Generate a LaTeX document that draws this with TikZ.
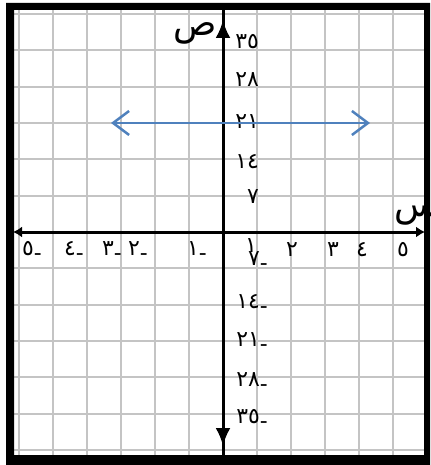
\documentclass[tikz,border=0pt]{standalone}
\usepackage{fontspec}
\usepackage{xcolor}
\usepackage{tikz}
\usetikzlibrary{arrows.meta}
\newfontfamily\arabicfont[Script=Arabic]{DejaVu Sans}
\TeXXeTstate=1
\definecolor{GPGrid}{HTML}{C4C4C4}
\definecolor{GPBlue}{HTML}{4F81BD}
\newcommand\lowdash{\raisebox{-0.35ex}{-}}

\begin{document}
\begin{tikzpicture}[x=1bp,y=-1bp,
  numlbl/.style={inner sep=0pt,font=\arabicfont\fontsize{22}{22}\selectfont},
  axislbl/.style={inner sep=0pt,font=\arabicfont\fontsize{36}{36}\selectfont}]
\path[use as bounding box] (0,0) rectangle (430,465);
\fill[white] (0,0) rectangle (430,465);
% graph paper
\draw[GPGrid,line width=2.4bp] (19,10) -- (19,455) (53,10) -- (53,455) (87,10) -- (87,455)
  (121,10) -- (121,455) (155,10) -- (155,455) (189,10) -- (189,455) (257,10) -- (257,455)
  (291,10) -- (291,455) (325,10) -- (325,455) (359,10) -- (359,455) (393,10) -- (393,455);
\draw[GPGrid,line width=2.4bp] (14,14) -- (424,14) (14,50) -- (424,50) (14,87) -- (424,87)
  (14,123) -- (424,123) (14,159) -- (424,159) (14,196) -- (424,196) (14,268) -- (424,268)
  (14,305) -- (424,305) (14,341) -- (424,341) (14,377) -- (424,377) (14,414) -- (424,414)
  (14,450) -- (424,450);
% y labels
\node[numlbl,anchor=east] (y35) at (259,42) {٣٥};
\node[numlbl,anchor=east] (y28) at (259,80) {٢٨};
\node[numlbl,anchor=east] (y21) at (259,122) {٢١};
\node[numlbl,anchor=east] (y14) at (259,162) {١٤};
\node[numlbl,anchor=east] (y7) at (259,197) {٧};
\node[numlbl,anchor=east] (ym7) at (268,261) {٧\lowdash};
\node[numlbl,anchor=east] (ym14) at (268,304) {١٤\lowdash};
\node[numlbl,anchor=east] (ym21) at (268,342) {٢١\lowdash};
\node[numlbl,anchor=east] (ym28) at (268,382) {٢٨\lowdash};
\node[numlbl,anchor=east] (ym35) at (268,419) {٣٥\lowdash};
% x labels
\node[numlbl] (xm5) at (32,251) {٥\lowdash};
\node[numlbl] (xm4) at (74,251) {٤\lowdash};
\node[numlbl] (xm3) at (112,251) {٣\lowdash};
\node[numlbl] (xm2) at (138,251) {٢\lowdash};
\node[numlbl] (xm1) at (197,251) {١\lowdash};
\node[numlbl] (x1) at (251,246) {١};
\node[numlbl] (x2) at (292,250) {٢};
\node[numlbl] (x3) at (333,250) {٣};
\node[numlbl] (x4) at (362,250) {٤};
\node[numlbl] (x5) at (403,250) {٥};
% axes
\draw[line width=3bp,{Latex[length=9bp,width=11bp]}-{Latex[length=9bp,width=11bp]}] (13,232) -- (425,232);
\draw[line width=3bp] (223,10) -- (223,455);
\draw[line width=3bp,-{Latex[length=18bp,width=15bp]}] (223,60) -- (223,20);
\draw[line width=3bp,-{Latex[length=18bp,width=15bp]}] (223,400) -- (223,446);
\node[axislbl] (ylbl) at (195,33) {\beginR ص\endR};
\node[axislbl] (xlbl) at (416,214) {\beginR س\endR};
% the line y = 21
\draw[GPBlue,line width=2.5bp,{Straight Barb[length=16bp,width=24bp]}-{Straight Barb[length=16bp,width=24bp]}] (111,123) -- (370,123);
% frame
\fill[black,even odd rule] (6,3) rectangle (430,465) (14,10) rectangle (424,455);
\end{tikzpicture}
\end{document}
